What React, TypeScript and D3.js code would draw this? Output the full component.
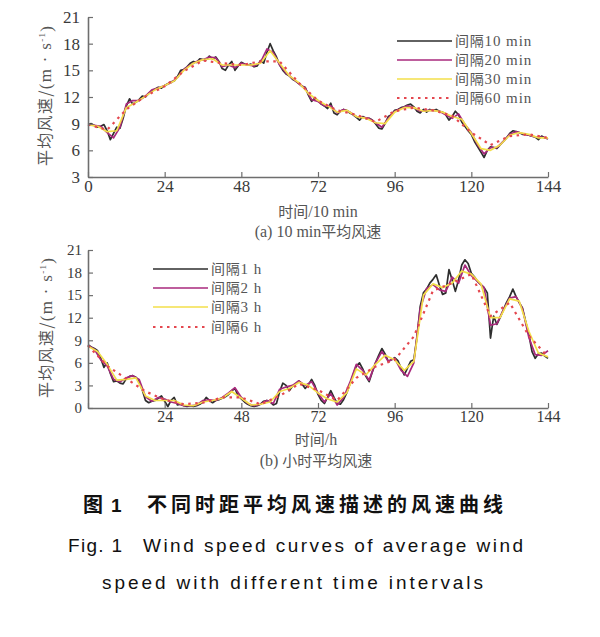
import {useEffect, useRef} from "react";
import * as d3 from "d3";

// interval (in samples) of each series, and their colours
const steps = [1, 2, 3, 6];
const colors = ["#2e2e2e", "#a8297c", "#f3df4a", "#e4474f"];
const xTicks = [0, 24, 48, 72, 96, 120, 144];
const topYTicks = [3, 6, 9, 12, 15, 18, 21];
const bottomYTicks = [0, 3, 6, 9, 12, 15, 18, 21];
const topLegend = ["10 min", "20 min", "30 min", "60 min"];
const bottomLegend = ["1 h", "2 h", "3 h", "6 h"];

// (a) 10 min mean wind speed
const min10 = [
    8.9, 9.0, 8.8, 8.6, 8.7, 8.9, 8.2, 7.2, 7.9, 8.6, 8.5, 9.6, 11.0, 11.8, 11.2, 11.4, 11.7, 12.1, 12.0, 12.4,
    12.7, 12.9, 13.1, 13.0, 13.3, 13.5, 13.7, 13.8, 14.3, 15.0, 15.1, 15.4, 15.8, 16.0, 15.9, 16.3, 16.2, 16.2, 16.6, 16.3,
    16.5, 16.0, 15.2, 15.0, 15.6, 16.0, 15.0, 15.5, 15.9, 15.7, 15.6, 15.7, 15.4, 15.5, 16.1, 15.8, 17.0, 18.0, 17.2, 16.5,
    15.6, 15.0, 14.6, 14.4, 14.0, 13.8, 13.5, 13.2, 13.1, 12.2, 11.5, 11.9, 11.6, 11.2, 11.0, 10.7, 11.3, 10.2, 10.0, 10.4,
    10.6, 10.5, 10.2, 10.0, 9.7, 9.4, 9.8, 9.6, 9.6, 9.4, 9.0, 8.5, 8.4, 9.0, 9.8, 10.0, 10.5, 10.6, 10.8, 10.9,
    11.1, 11.2, 10.9, 10.4, 10.2, 10.6, 10.3, 10.6, 10.5, 10.6, 10.4, 10.3, 10.0, 9.4, 9.8, 10.4, 10.0, 9.2, 8.7, 8.2,
    7.8, 7.0, 6.4, 5.8, 5.2, 6.0, 6.4, 6.3, 6.2, 6.6, 7.0, 7.4, 7.9, 8.2, 8.1, 8.0, 7.8, 7.8, 7.7, 7.6,
    7.5, 7.2, 7.6, 7.4, 7.3,
];
const min20 = [
    8.9, 8.8, 8.7, 8.0, 7.4, 8.6, 11.2, 11.6, 11.6, 12.1, 12.8, 13.0, 13.3, 13.6, 14.2, 15.1, 15.6, 16.0, 16.2, 16.5,
    16.4, 15.4, 15.6, 15.3, 15.8, 15.6, 15.5, 15.9, 17.4, 17.0, 15.6, 14.7, 14.1, 13.5, 13.0, 11.7, 11.5, 11.0, 11.0, 10.2,
    10.6, 10.3, 9.8, 9.7, 9.6, 9.1, 8.6, 9.6, 10.4, 10.7, 11.0, 10.8, 10.4, 10.5, 10.5, 10.4, 10.0, 9.6, 10.1, 8.9,
    8.0, 6.6, 5.6, 6.3, 6.3, 7.0, 7.8, 8.1, 7.9, 7.7, 7.5, 7.5, 7.3,
];
const min30 = [
    8.9, 8.7, 8.1, 8.2, 10.8, 11.4, 12.1, 12.8, 13.3, 13.8, 15.0, 15.8, 16.2, 16.3, 15.6, 15.6, 15.6, 15.6, 15.8, 17.2,
    15.8, 14.4, 13.6, 12.4, 11.6, 11.0, 10.3, 10.5, 9.8, 9.6, 9.1, 9.0, 10.3, 10.8, 10.8, 10.4, 10.5, 10.3, 9.8, 9.5,
    7.9, 6.2, 6.0, 6.6, 7.7, 8.0, 7.8, 7.4, 7.4,
];
const min60 = [
    8.9, 8.3, 10.6, 12.1, 13.2, 14.9, 16.1, 15.8, 15.6, 16.0, 16.0, 13.6, 11.6, 10.5, 10.0, 9.2, 10.4, 10.8, 10.5, 9.9,
    8.0, 6.6, 7.6, 7.8, 7.4,
];

// (b) hourly mean wind speed
const hour1 = [
    8.4, 8.1, 7.9, 7.6, 6.6, 5.4, 6.0, 4.6, 3.5, 3.6, 3.3, 3.2, 3.9, 4.2, 4.3, 4.1, 3.5, 2.4, 1.0, 0.7,
    0.9, 1.0, 1.3, 1.6, 0.9, 0.2, 1.0, 1.4, 0.4, 0.5, 0.3, 0.2, 0.3, 0.2, 0.3, 0.5, 0.8, 1.4, 1.0, 0.7,
    1.0, 1.1, 1.3, 1.5, 1.8, 2.3, 2.6, 1.6, 1.2, 0.8, 0.5, 0.3, 0.2, 0.3, 0.5, 0.9, 1.0, 0.8, 0.4, 0.6,
    2.2, 3.3, 3.0, 2.3, 2.9, 3.2, 3.6, 3.2, 2.6, 3.1, 3.8, 3.0, 1.8, 1.0, 0.6, 1.4, 2.3, 1.4, 0.6, 0.5,
    1.1, 2.0, 3.2, 4.4, 5.6, 6.0, 5.2, 4.2, 3.5, 4.8, 6.0, 7.0, 7.9, 7.2, 6.2, 6.4, 6.7, 6.3, 5.3, 4.4,
    5.3, 6.2, 6.4, 9.5, 13.5, 15.3, 15.8, 16.6, 17.1, 17.7, 16.3, 15.1, 15.3, 18.4, 17.0, 15.5, 17.0, 19.0, 19.7, 19.2,
    17.9, 17.4, 16.8, 16.4, 16.0, 15.3, 9.3, 12.2, 11.1, 12.0, 13.0, 14.0, 14.8, 15.8, 14.8, 14.0, 13.3, 11.5, 9.8, 7.5,
    6.6, 7.2, 7.3, 6.9, 6.6,
];
const hour2 = [
    8.3, 7.8, 6.4, 5.6, 3.8, 3.5, 4.0, 4.3, 3.8, 1.5, 0.9, 1.4, 1.2, 0.8, 0.6, 0.3, 0.3, 0.4, 1.0, 1.1,
    1.0, 1.4, 2.0, 2.7, 1.4, 0.6, 0.3, 0.5, 1.0, 0.6, 2.5, 2.8, 3.0, 3.6, 3.0, 3.5, 2.0, 0.8, 1.9, 0.4,
    1.4, 3.4, 5.8, 5.0, 3.7, 6.0, 7.5, 6.2, 6.6, 5.0, 4.2, 6.0, 13.2, 15.9, 16.4, 15.7, 15.5, 17.4, 16.6, 19.0,
    17.6, 16.8, 16.0, 11.0, 11.2, 13.0, 14.6, 14.8, 13.2, 9.4, 7.1, 7.0, 7.6,
];
const hour3 = [
    8.2, 7.5, 5.8, 3.7, 3.8, 4.0, 1.6, 1.0, 1.0, 1.0, 0.4, 0.3, 0.8, 1.0, 1.3, 2.2, 1.3, 0.4, 0.5, 0.8,
    2.2, 2.6, 3.4, 3.0, 2.0, 1.2, 0.8, 2.0, 5.2, 4.4, 5.8, 7.0, 6.4, 5.0, 6.2, 15.0, 16.5, 16.0, 16.6, 18.2,
    17.8, 16.5, 12.0, 12.0, 14.5, 14.2, 10.2, 7.3, 6.8,
];
const hour6 = [
    8.3, 5.6, 3.9, 2.2, 1.1, 0.5, 0.7, 1.4, 1.4, 0.5, 1.6, 3.2, 2.4, 1.0, 4.0, 5.5, 6.4, 9.5, 15.6, 16.6,
    17.8, 12.2, 14.0, 9.6, 6.8,
];

const SERIF = "'Liberation Serif', 'DejaVu Serif', serif";
const CJK = "'Noto Sans CJK SC', sans-serif";
const SANS = "'Liberation Sans', Arial, sans-serif";

function drawPanel(svg, cfg) {
    const x = d3.scaleLinear().domain([0, 144]).range([cfg.left, cfg.right]);
    const y = d3.scaleLinear().domain(cfg.yDomain).range([cfg.bottom, cfg.top]);

    cfg.series.forEach((vals, k) => {
        const line = d3.line().x((_, i) => x(i * steps[k])).y((v) => y(v));
        svg.append('path')
            .attr('d', line(vals))
            .attr('fill', 'none')
            .attr('stroke', colors[k])
            .attr('stroke-width', k === 3 ? 2.2 : 1.7)
            .attr('stroke-dasharray', k === 3 ? '2.5,4.5' : null)
            .attr('stroke-linejoin', 'round');
    });

    const xAxis = d3.axisBottom(x)
        .tickValues(xTicks)
        .tickSizeInner(-5)
        .tickSizeOuter(0)
        .tickPadding(3)
        .tickFormat((d) => (cfg.hideZero && d === 0 ? '' : String(d)));
    const gx = svg.append('g').attr('transform', `translate(0,${cfg.bottom})`).call(xAxis);

    const yAxis = d3.axisLeft(y)
        .tickValues(cfg.yTicks)
        .tickSizeInner(-5)
        .tickSizeOuter(0)
        .tickPadding(cfg.yPad);
    const gy = svg.append('g').attr('transform', `translate(${cfg.left},0)`).call(yAxis);

    [gx, gy].forEach((g) => {
        g.select('.domain').attr('stroke', '#6e6e6e').attr('stroke-width', 1.6);
        g.selectAll('.tick line').attr('stroke', '#6e6e6e').attr('stroke-width', 1.2);
        g.selectAll('text')
            .attr('font-family', SERIF)
            .attr('fill', '#3a3a3a');
    });
    gx.selectAll('text').attr('font-size', cfg.xFont);
    gy.selectAll('text').attr('font-size', cfg.yFont);

    // legend
    cfg.legend.forEach((lab, k) => {
        const ly = cfg.legendY[k];
        svg.append('line')
            .attr('x1', cfg.legendX[0]).attr('x2', cfg.legendX[1])
            .attr('y1', ly).attr('y2', ly)
            .attr('stroke', colors[k])
            .attr('stroke-width', k === 3 ? 2.2 : 1.5)
            .attr('stroke-dasharray', k === 3 ? '2.5,4.5' : null);
        const t = svg.append('text')
            .attr('x', cfg.legendX[1] + 3).attr('y', ly)
            .attr('dy', '0.35em')
            .attr('fill', '#555')
            .attr('font-size', 15);
        t.append('tspan').attr('font-family', CJK).attr('font-size', 14).attr('letter-spacing', 0.8).text('间隔');
        t.append('tspan').attr('font-family', SERIF).attr('letter-spacing', 0.9).text(lab);
    });

    // titles
    svg.append('text')
        .attr('transform', `translate(${cfg.yTitleX},${cfg.yTitleY}) rotate(-90)`)
        .attr('text-anchor', 'middle')
        .attr('dy', '0.35em')
        .attr('fill', '#555')
        .attr('font-size', 16)
        .attr('font-family', CJK)
        .attr('textLength', 140)
        .attr('lengthAdjust', 'spacing')
        .call((t) => {
            t.append('tspan').text('平均风速/');
            t.append('tspan').attr('font-family', SERIF).attr('font-size', 17).text('(m · s');
            t.append('tspan').attr('font-family', SERIF).attr('font-size', 9).attr('dy', '-0.6em').text('-1');
            t.append('tspan').attr('font-family', SERIF).attr('font-size', 17).attr('dy', '0.4em').text(')');
        });

    svg.append('text')
        .attr('x', cfg.xTitleX).attr('y', cfg.xTitleY)
        .attr('text-anchor', 'middle').attr('dy', '0.35em')
        .attr('fill', '#555').attr('font-size', 15)
        .call((t) => {
            t.append('tspan').attr('font-family', CJK).text('时间');
            t.append('tspan').attr('font-family', SERIF).attr('font-size', 16).text(cfg.xUnit);
        });

    svg.append('text')
        .attr('x', cfg.xTitleX).attr('y', cfg.subY)
        .attr('text-anchor', 'middle').attr('dy', '0.35em')
        .attr('fill', '#555').attr('font-size', 15)
        .call((t) => {
            t.append('tspan').attr('font-family', SERIF).attr('font-size', 16).text(cfg.subA);
            t.append('tspan').attr('font-family', CJK).text(cfg.subB);
        });
}

export default function App() {
    const ref = useRef(null);

    useEffect(() => {
        const svg = d3.select(ref.current);
        svg.selectAll('*').remove();

        drawPanel(svg, {
            left: 88, right: 548, top: 17, bottom: 177,
            yDomain: [3, 21], yTicks: topYTicks, yPad: 8,
            xFont: 17, yFont: 17, hideZero: false,
            series: [min10, min20, min30, min60],
            legend: topLegend, legendX: [397, 452], legendY: [41, 60, 79, 98],
            yTitleX: 45, yTitleY: 96,
            xTitleX: 318, xTitleY: 212, xUnit: '/10 min',
            subY: 232, subA: '(a) 10 min', subB: '平均风速',
        });

        drawPanel(svg, {
            left: 88, right: 548, top: 250, bottom: 408,
            yDomain: [0, 21], yTicks: bottomYTicks, yPad: 6,
            xFont: 16, yFont: 15, hideZero: true,
            series: [hour1, hour2, hour3, hour6],
            legend: bottomLegend, legendX: [153, 208], legendY: [269, 288, 307, 327],
            yTitleX: 46, yTitleY: 328,
            xTitleX: 316, xTitleY: 440, xUnit: '/h',
            subY: 461, subA: '(b) ', subB: '小时平均风速',
        });

        // figure caption
        svg.append('text')
            .attr('x', 83).attr('y', 505).attr('dy', '0.35em')
            .attr('font-family', CJK).attr('font-weight', 'bold').attr('font-size', 20)
            .attr('fill', '#111').text('图');
        svg.append('text')
            .attr('x', 111).attr('y', 505).attr('dy', '0.35em')
            .attr('font-family', SANS).attr('font-weight', 'bold').attr('font-size', 19)
            .attr('fill', '#111').text('1');
        svg.append('text')
            .attr('x', 147).attr('y', 505).attr('dy', '0.35em')
            .attr('font-family', CJK).attr('font-weight', 'bold').attr('font-size', 20)
            .attr('textLength', 356).attr('fill', '#111').text('不同时距平均风速描述的风速曲线');
        svg.append('text')
            .attr('x', 68).attr('y', 545).attr('dy', '0.35em')
            .attr('font-family', SANS).attr('font-size', 19)
            .attr('textLength', 54).attr('fill', '#111')
            .text('Fig. 1');
        svg.append('text')
            .attr('x', 143).attr('y', 545).attr('dy', '0.35em')
            .attr('font-family', SANS).attr('font-size', 19)
            .attr('textLength', 380).attr('fill', '#111')
            .text('Wind speed curves of average wind');
        svg.append('text')
            .attr('x', 102).attr('y', 582).attr('dy', '0.35em')
            .attr('font-family', SANS).attr('font-size', 19)
            .attr('textLength', 381).attr('fill', '#111')
            .text('speed with different time intervals');
    }, []);

    return (
        <svg ref={ref} width={600} height={637}
             style={{position: 'absolute', left: 0, top: 0, background: '#fff'}}/>
    );
}
